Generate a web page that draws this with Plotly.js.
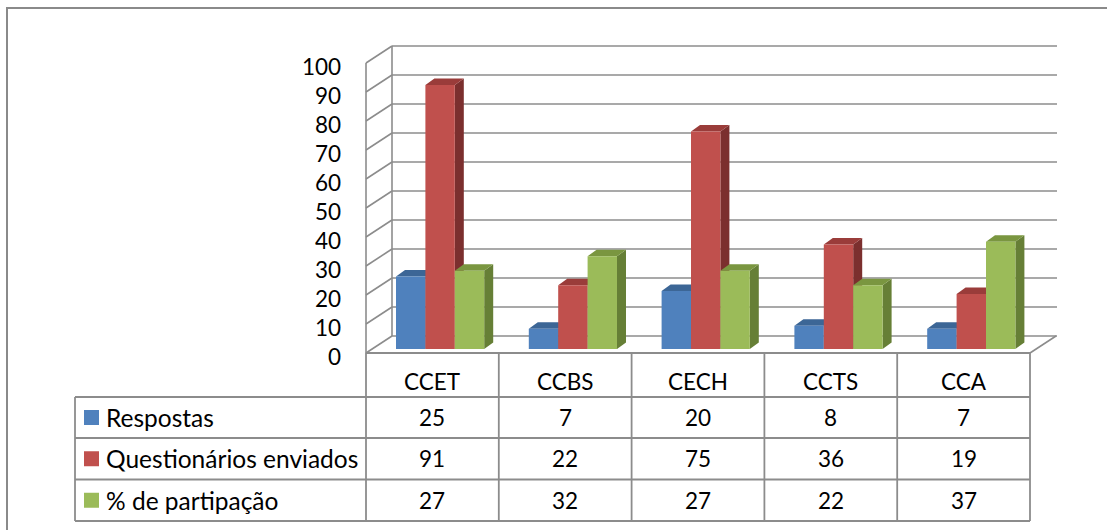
<!DOCTYPE html>
<html><head><meta charset="utf-8">
<script src="https://cdn.plot.ly/plotly-3.0.1.min.js"></script>
<style>html,body{margin:0;padding:0;background:#fff;overflow:hidden}</style>
</head><body>
<div id="chart" style="width:1107px;height:530px"></div>
<script>
// ---------- data ----------
const categories = ['CCET', 'CCBS', 'CECH', 'CCTS', 'CCA'];
const seriesNames = ['Respostas', 'Questionários enviados', '% de partipação'];
const respostas = [25, 7, 20, 8, 7];
const enviados = [91, 22, 75, 36, 19];
const participacao = [27, 32, 27, 22, 37];
const yTicks = [0, 10, 20, 30, 40, 50, 60, 70, 80, 90, 100];

const seriesValues = [respostas, enviados, participacao];
const frontColors = ['#4F81BD', '#C0504D', '#9BBB59'];
const topColors = ['#3C6696', '#9A3C3A', '#7A9640'];
const sideColors = ['#355A86', '#7B2F2E', '#667F36'];

// ---------- layout geometry (pixels of the 1107x530 canvas) ----------
const W = 1107, H = 530;
const COLW = 132.8, X0PX = 366, Y0PX = 353, PXV = 2.9;
const xd = px => -0.5 + (px - X0PX) / COLW;   // pixel -> category units
const yd = py => (Y0PX - py) / PXV;            // pixel -> value units
const dX = px => px / COLW, dY = px => px / PXV;
const X_RANGE = [xd(0), xd(W)];
const Y_RANGE = [yd(H), yd(0)];

const FAMILY = 'Lato, "Open Sans", sans-serif';
const FONT = {family: FAMILY, size: 22.5, color: '#000'};
const LABEL_FONT = {family: FAMILY, size: 24.5, color: '#000'};
const GRID = '#8c8c8c';

// wall depth
const WALL_DX = dX(26), WALL_DY = dY(17);
const BACK_RIGHT = xd(1057);
// bar geometry
const BAR_LEFT = dX(30), BAR_W = dX(29.4), BAR_BASE = dY(4);
const BAR_DX = dX(9), BAR_DY = dY(6.5);

// ---------- bars as 3D faces ----------
const traces = [];
seriesValues.forEach((vals, s) => {
  const side = {x: [], y: []}, top = {x: [], y: []}, front = {x: [], y: []};
  vals.forEach((v, i) => {
    const l = i - 0.5 + BAR_LEFT + s * BAR_W, r = l + BAR_W;
    const b = BAR_BASE, t = BAR_BASE + v;
    side.x.push(r, r + BAR_DX, r + BAR_DX, r, null);
    side.y.push(b, b + BAR_DY, t + BAR_DY, t, null);
    top.x.push(l, r, r + BAR_DX, l + BAR_DX, null);
    top.y.push(t, t, t + BAR_DY, t + BAR_DY, null);
    front.x.push(l, r, r, l, null);
    front.y.push(b, b, t, t, null);
  });
  [[side, sideColors[s]], [top, topColors[s]], [front, frontColors[s]]].forEach(([p, c]) => {
    traces.push({type: 'scatter', mode: 'none', x: p.x, y: p.y, fill: 'toself',
      fillcolor: c, hoverinfo: 'skip', showlegend: false});
  });
});

// ---------- walls / gridlines ----------
const shapes = [];
const line = (x0, y0, x1, y1, color, width, layer) => shapes.push({type: 'line', xref: 'x', yref: 'y',
  x0, y0, x1, y1, layer: layer || 'below', line: {color: color || GRID, width: width || 1.6}});

yTicks.forEach(v => {
  line(-0.5 + WALL_DX, v + WALL_DY, BACK_RIGHT, v + WALL_DY);          // back wall
  line(-0.5, v, -0.5 + WALL_DX, v + WALL_DY);                            // side wall
});
line(-0.5 + WALL_DX, WALL_DY, -0.5 + WALL_DX, yTicks[yTicks.length - 1] + WALL_DY);
line(-0.5, 0, -0.5, yTicks[yTicks.length - 1]);
line(categories.length - 0.5, 0, categories.length - 0.5 + WALL_DX, WALL_DY); // floor right edge

// ---------- data table ----------
const rowLines = [353, 397, 438, 479.5, 521];
const tableLeft = xd(75), tableRight = categories.length - 0.5;
line(-0.5, yd(rowLines[0]), tableRight, yd(rowLines[0]), GRID, 1.8, 'above');
rowLines.slice(1).forEach(py => line(tableLeft, yd(py), tableRight, yd(py), GRID, 1.8, 'above'));
for (let k = 0; k <= categories.length; k++) {
  line(k - 0.5, yd(rowLines[0]), k - 0.5, yd(rowLines[4]), GRID, 1.8, 'above');
}
line(tableLeft, yd(rowLines[1]), tableLeft, yd(rowLines[4]), GRID, 1.8, 'above');

// outer chart border (cropped at right / bottom)
shapes.push({type: 'rect', xref: 'x', yref: 'y', x0: xd(7), y0: yd(8), x1: xd(W + 20), y1: yd(H + 20),
  layer: 'below', line: {color: '#8a8a8a', width: 2}, fillcolor: 'rgba(0,0,0,0)'});

const annotations = [];
// y tick labels
yTicks.forEach(v => annotations.push({xref: 'x', yref: 'y', x: xd(343), y: v, text: String(v),
  showarrow: false, xanchor: 'right', yanchor: 'middle', yshift: -3, font: FONT}));
// category header
const headerY = yd(381);
categories.forEach((c, i) => annotations.push({xref: 'x', yref: 'y', x: i, y: headerY, text: c,
  showarrow: false, xanchor: 'center', yanchor: 'middle', font: FONT}));
// rows
seriesNames.forEach((name, s) => {
  const cy = yd((rowLines[s + 1] + rowLines[s + 2]) / 2);
  shapes.push({type: 'rect', xref: 'x', yref: 'y', x0: xd(84), x1: xd(99),
    y0: cy - dY(7.5), y1: cy + dY(7.5), layer: 'above', line: {width: 0}, fillcolor: frontColors[s]});
  annotations.push({xref: 'x', yref: 'y', x: xd(104), y: cy, text: name, showarrow: false,
    xanchor: 'left', yanchor: 'middle', font: LABEL_FONT});
  seriesValues[s].forEach((v, i) => annotations.push({xref: 'x', yref: 'y', x: i, y: cy,
    text: String(v), showarrow: false, xanchor: 'center', yanchor: 'middle', font: FONT}));
});

const layout = {
  width: W, height: H, margin: {l: 0, r: 0, t: 0, b: 0, pad: 0},
  paper_bgcolor: '#fff', plot_bgcolor: '#fff', showlegend: false,
  xaxis: {range: X_RANGE, visible: false, fixedrange: true},
  yaxis: {range: Y_RANGE, visible: false, fixedrange: true},
  shapes, annotations, font: FONT
};
Plotly.newPlot('chart', traces, layout, {displayModeBar: false, staticPlot: true});
</script>
</body></html>
